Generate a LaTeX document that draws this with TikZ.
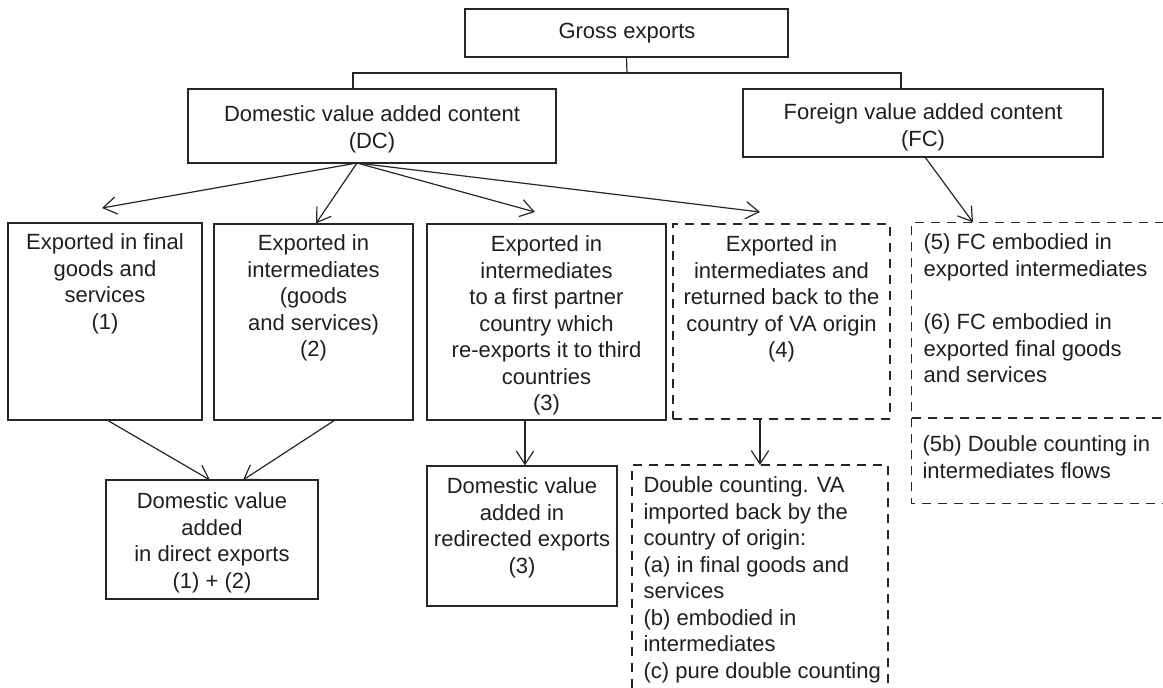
\documentclass[tikz,border=0pt]{standalone}
\usepackage{fontspec}
\setmainfont{Liberation Sans}
\usetikzlibrary{arrows.meta,fit}
\begin{document}
\begin{tikzpicture}[x=0.75pt,y=-0.75pt,
  line width=0.9pt,
  box/.style={draw=black!85, inner sep=0pt},
  ghost/.style={inner sep=0pt},
  dashline/.style={draw=black!85, dash pattern=on 6.5pt off 5.5pt},
  txt/.style={inner sep=0pt, align=center, text=black!88,
              font=\fontsize{16.5pt}{19.9pt}\selectfont},
  ltxt/.style={txt, align=left, anchor=north west},
  arr/.style={draw=black!85, -{Straight Barb[length=10pt,width=13pt]}},
  conn/.style={draw=black!85}]
\useasboundingbox (0,0) rectangle (1163,688);

% top levels
\node[box, fit={(465,9)(788,57)}] (gross) {};
\node[txt] (grosst) at (627,33) {Gross exports};
\node[box, fit={(188,89)(556,163)}] (dc) {};
\node[txt, anchor=north] (dct) at (372,105) {Domestic value added content\\(DC)};
\node[box, fit={(743,89)(1103,157)}] (fc) {};
\node[txt, anchor=north] (fct) at (923,103) {Foreign value added content\\(FC)};

% second level
\node[box, fit={(8,223)(202,420)}] (b1) {};
\node[txt, anchor=north] (b1t) at (105,233) {Exported in final\\goods and\\services\\(1)};
\node[box, fit={(214,224)(413,420)}] (b2) {};
\node[txt, anchor=north] (b2t) at (313.5,234) {Exported in\\intermediates\\(goods\\and services)\\(2)};
\node[box, fit={(427,224)(666,420)}] (b3) {};
\node[txt, anchor=north] (b3t) at (546.5,235) {Exported in\\intermediates\\to a first partner\\country which\\re-exports it to third\\countries\\(3)};
\node[box, dashline, fit={(673,224)(890,419)}] (b4) {};
\node[txt, anchor=north] (b4t) at (781.5,235) {Exported in\\intermediates and\\returned back to the\\country of VA origin\\(4)};

% FC region
\node[ghost, fit={(912,223)(1163,503)}] (fcr) {};
\coordinate (divl) at (912,418);
\draw[dashline] (fcr.north east) -- (fcr.north west) -- (fcr.south west) -- (fcr.south east);
\draw[dashline] (divl) -- (fcr.east |- divl);
\node[ltxt] (fc5t) at (923,233) {(5) FC embodied in\\exported intermediates};
\node[ltxt] (fc6t) at (923,313) {(6) FC embodied in\\exported final goods\\and services};
\node[ltxt] (fc5bt) at (922,435) {(5b) Double counting in\\intermediates flows};

% third level
\node[box, fit={(106,480)(318,599)}] (dva) {};
\node[txt, anchor=north] (dvat) at (212,492) {Domestic value\\added\\in direct exports\\(1) + (2)};
\node[box, fit={(427,466)(617,606)}] (red) {};
\node[txt, anchor=north] (redt) at (522,477) {Domestic value\\added in\\redirected exports\\(3)};

\coordinate (dbtl) at (632,465);
\coordinate (dbtr) at (888,465);
\coordinate (dbbl) at (632,688);
\coordinate (dbbr) at (888,688);
\draw[dashline] (dbbl) -- (dbtl) -- (dbtr) -- (dbbr);
\node[ltxt] (dbt) at (643,476) {Double counting. VA\\imported back by the\\country of origin:\\(a) in final goods and\\services\\(b) embodied in\\intermediates\\(c) pure double counting};

% tree connector
\coordinate (jm) at (627,73);
\coordinate (jl) at (353,73);
\coordinate (jr) at (901,73);
\draw[conn] (gross.south) -- (jm);
\draw[conn] (dc.north -| jl) -- (jl) -- (jr) -- (fc.north -| jr);

% arrows from DC
\coordinate (dco) at (357,163);
\coordinate (t1) at (102,208);
\coordinate (x316) at (316,0);
\coordinate (t3) at (535,212);
\coordinate (t4) at (760,212);
\draw[arr] (dco) -- (t1);
\draw[arr] (dco) -- (b2.north -| x316);
\draw[arr] (dco) -- (t3);
\draw[arr] (dco) -- (t4);

% arrow from FC
\coordinate (fco) at (925,157);
\coordinate (x973) at (973,0);
\draw[arr] (fco) -- (fcr.north -| x973);

% arrows to third level
\coordinate (b1o) at (107,420);
\coordinate (dvaA) at (210,480);
\coordinate (b2o) at (335,420);
\coordinate (dvaB) at (243,480);
\draw[arr] (b1o) -- (dvaA);
\draw[arr] (b2o) -- (dvaB);
\coordinate (x525) at (525,0);
\draw[arr] (b3.south -| x525) -- (red.north -| x525);
\coordinate (x760) at (760,0);
\draw[arr] (b4.south -| x760) -- (dbtl -| x760);
\end{tikzpicture}
\end{document}
